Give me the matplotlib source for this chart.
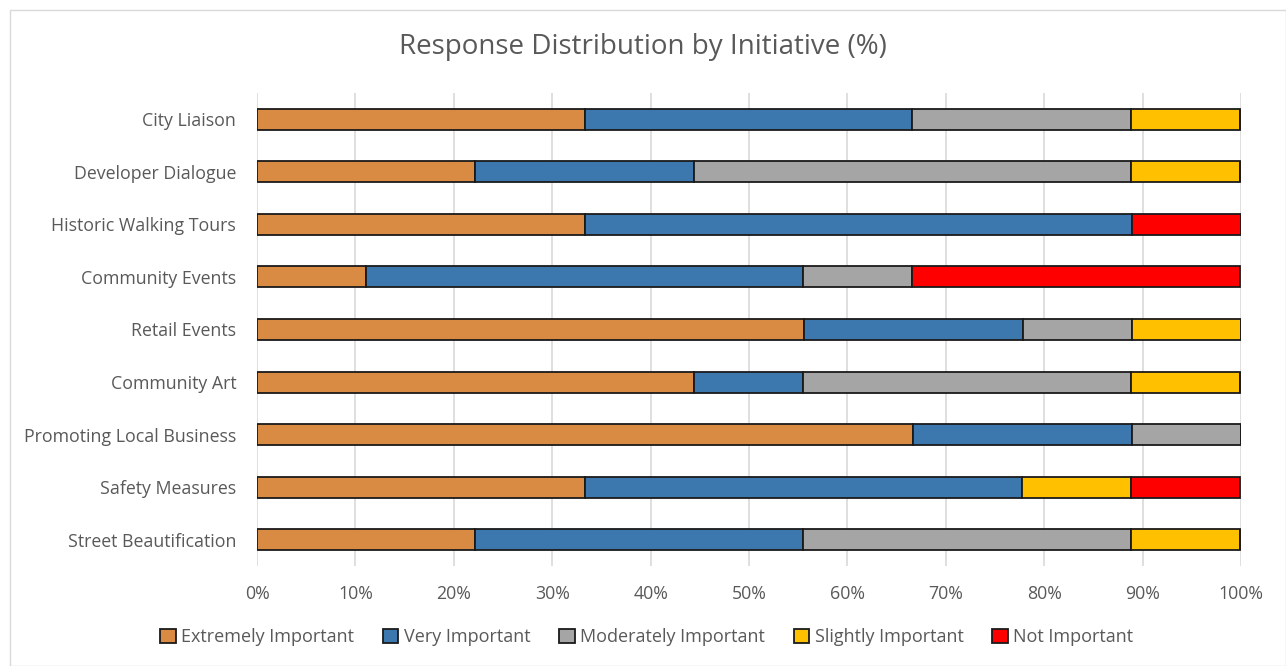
import numpy as np
from matplotlib import pyplot as plt
from matplotlib.patches import Rectangle

plt.rcParams['font.family'] = ['Open Sans', 'DejaVu Sans']

initiatives = [
    'City Liaison', 'Developer Dialogue', 'Historic Walking Tours',
    'Community Events', 'Retail Events', 'Community Art',
    'Promoting Local Business', 'Safety Measures', 'Street Beautification',
]
responses = [
    'Extremely Important', 'Very Important', 'Moderately Important',
    'Slightly Important', 'Not Important',
]
extremely = [33.3, 22.2, 33.3, 11.1, 55.6, 44.4, 66.7, 33.3, 22.2]
very = [33.3, 22.2, 55.6, 44.4, 22.2, 11.1, 22.2, 44.4, 33.3]
moderately = [22.2, 44.4, 0.0, 11.1, 11.1, 33.3, 11.1, 0.0, 33.3]
slightly = [11.1, 11.1, 0.0, 0.0, 11.1, 11.1, 0.0, 11.1, 11.1]
not_imp = [0.0, 0.0, 11.1, 33.3, 0.0, 0.0, 0.0, 11.1, 0.0]
colors = ['#D98B43', '#3C77AE', '#A5A5A5', '#FFC000', '#FF0000']

text_col = '#595959'

fig = plt.figure(figsize=(12.86, 6.66), dpi=100)
ax = fig.add_axes([257 / 1286, 1 - 566 / 666, (1241 - 257) / 1286, (566 - 93) / 666])

y = np.arange(len(initiatives))
left = np.zeros(len(initiatives))
for name, vals, col in zip(responses, [extremely, very, moderately, slightly, not_imp], colors):
    vals = np.array(vals)
    ax.barh(y, vals, left=left, height=0.4, color=col, edgecolor='#1a1a1a',
            linewidth=1.3, label=name, zorder=3)
    left += vals

ax.set_xlim(0, 100)
ax.set_ylim(len(initiatives) - 0.5, -0.5)
ax.set_xticks(np.arange(0, 101, 10))
ax.set_xticklabels(['{0}%'.format(v) for v in range(0, 101, 10)])
ax.set_yticks(y)
ax.set_yticklabels(initiatives)
ax.grid(axis='x', color='#D9D9D9', linewidth=1.2, zorder=0)
for s in ax.spines.values():
    s.set_visible(False)
ax.tick_params(length=0, labelsize=12.8, colors=text_col)
ax.tick_params(axis='y', pad=15)
ax.tick_params(axis='x', pad=14)

fig.suptitle('Response Distribution by Initiative (%)', y=1 - 47 / 666, va='center',
             fontsize=20, color=text_col)

leg = fig.legend(loc='center', bbox_to_anchor=(0.503, 1 - 637 / 666), ncol=5,
                 frameon=False, fontsize=13, handlelength=0.85, handleheight=0.85,
                 handletextpad=0.3, columnspacing=1.6)
for t in leg.get_texts():
    t.set_color(text_col)

fig.patches.append(Rectangle((10 / 1286, 0), 1 - 10 / 1286, 1 - 10 / 666,
                             transform=fig.transFigure, fill=False,
                             edgecolor='#D9D9D9', linewidth=1))

plt.savefig('out.png', dpi=100)
